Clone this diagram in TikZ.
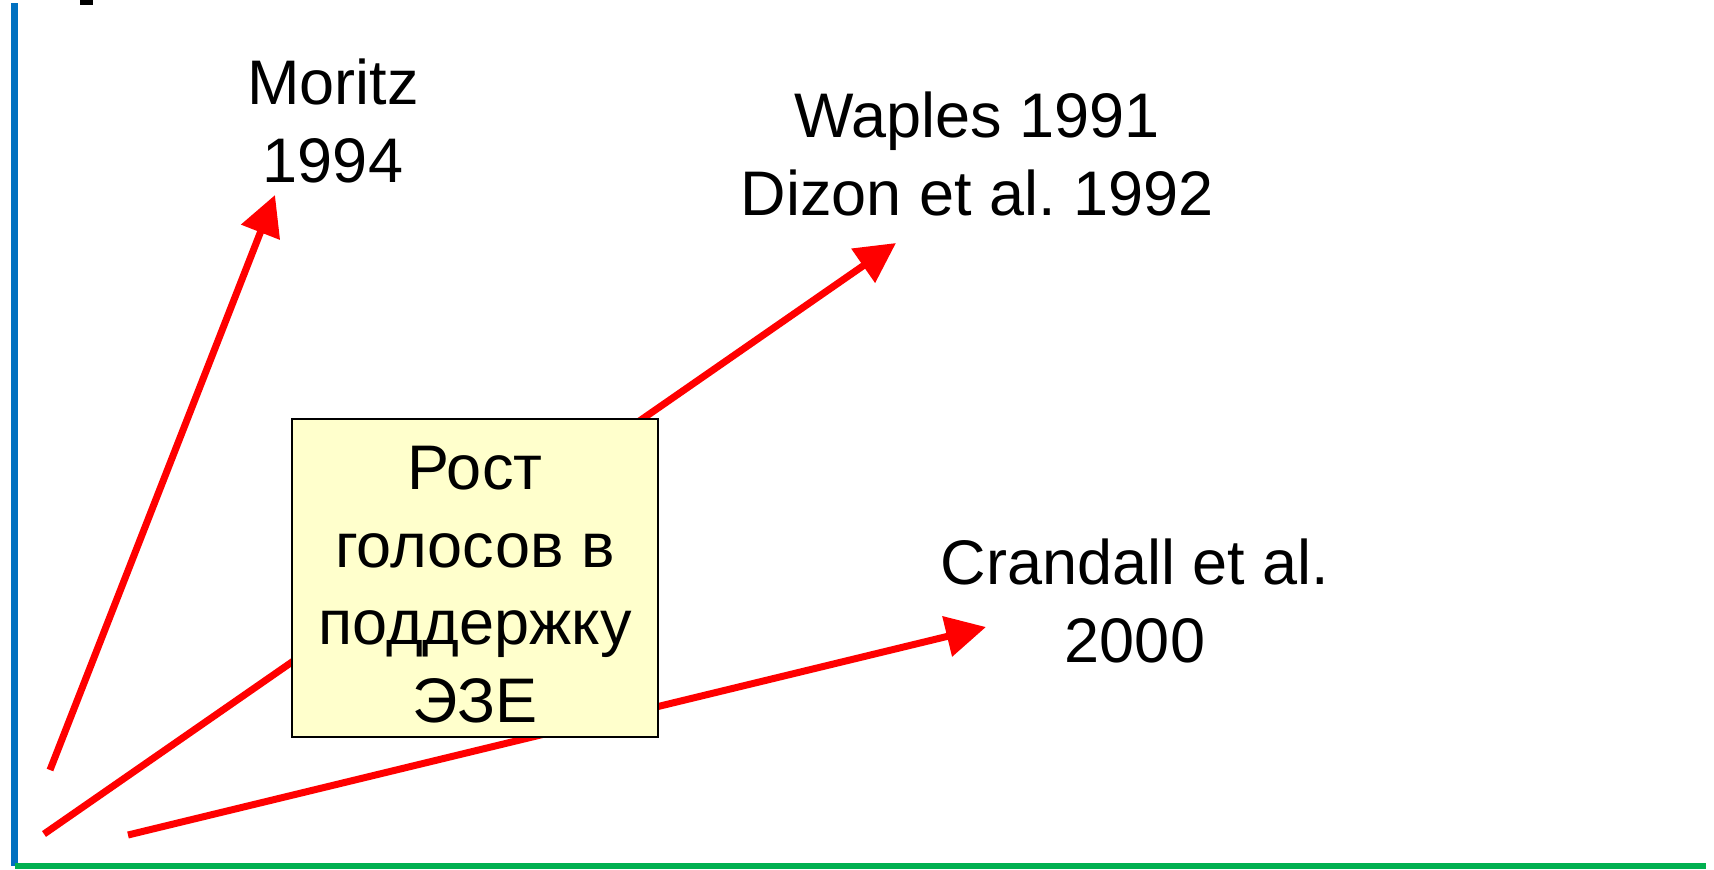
\documentclass[tikz,border=0pt]{standalone}
\usepackage{fontspec}
\setmainfont{Liberation Sans}
\usetikzlibrary{arrows.meta}
\definecolor{axisblue}{HTML}{0070C0}
\definecolor{axisgreen}{HTML}{00B050}
\definecolor{boxyellow}{HTML}{FFFFCC}
\frenchspacing
\tikzset{
  lbl/.style={align=center, inner sep=0pt, font=\fontsize{31.5}{38.75}\selectfont, anchor=base},
  redarrow/.style={draw=red, line width=3.5pt, -{Triangle[length=20pt,width=20pt]}},
  notebox/.style={draw=black, line width=0.8pt, fill=boxyellow, minimum width=183pt, minimum height=159pt, inner sep=0pt}
}
\begin{document}
\begin{tikzpicture}[x=0.5pt,y=-0.5pt]
\useasboundingbox (0,0) rectangle (1714,869);
% axes
\coordinate (ytop) at (14,3);
\coordinate (orig) at (14,866);
\coordinate (xstart) at (15,866);
\coordinate (xend) at (1706,866);
\draw[axisblue, line width=3.5pt] (ytop) -- (orig);
\draw[axisgreen, line width=3pt] (xstart) -- (xend);
\fill[black] (80,0) rectangle (93,5);
% labels (anchor base = last line baseline)
\node[lbl] (moritz) at (333,182) {Moritz\\1994};
\node[lbl] (waples) at (977,215) {Waples 1991\\Dizon et al. 1992};
\node[lbl] (crandall) at (1135,662) {Crandall et al.\\2000};
% arrows
\coordinate (s1) at (50,770);
\coordinate (t1) at (275,195);
\coordinate (s2) at (44,834);
\coordinate (t2) at (896,243);
\coordinate (s3) at (128,835);
\coordinate (t3) at (986,627);
\draw[redarrow] (s1) -- (t1);
\draw[redarrow] (s2) -- (t2);
\draw[redarrow] (s3) -- (t3);
% box
\node[notebox] (box) at (475,578) {};
\node[lbl] (boxtext) at (475,722) {Рост\\голосов в\\поддержку\\ЭЗЕ};
\end{tikzpicture}
\end{document}
